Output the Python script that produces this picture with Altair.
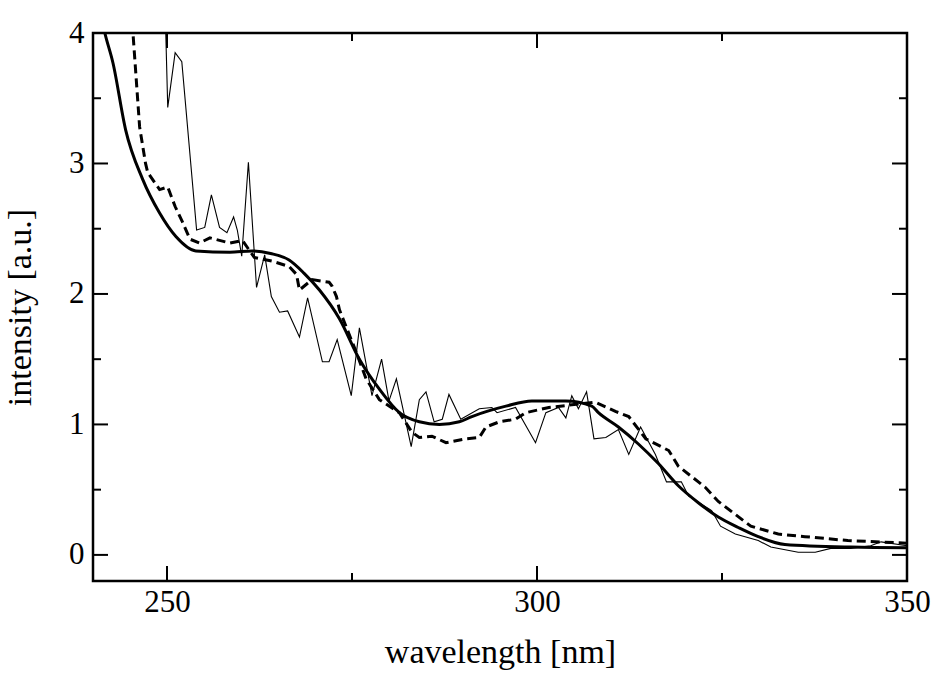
import altair as alt
import pandas as pd

# ---- data ----
smooth_x = [240.0, 241.6, 242.7, 244.4, 246.7, 249.0, 251.2, 253.9, 258.5, 261.5, 264.0, 266.5, 268.5,
            270.6, 273.3, 276.0, 278.7, 281.4, 284.1, 286.8, 289.5, 291.2, 295.8, 299.3, 303.9,
            307.4, 308.3, 311.0, 313.7, 316.4, 319.1, 321.8, 324.5, 327.2, 329.9, 333.5, 342.4, 350.0]
smooth_y = [4.45, 4.0, 3.77, 3.26, 2.88, 2.62, 2.44, 2.33, 2.32, 2.33, 2.31, 2.26, 2.16,
            2.03, 1.81, 1.50, 1.27, 1.09, 1.02, 1.00, 1.02, 1.06, 1.14, 1.18, 1.18,
            1.14, 1.09, 0.98, 0.85, 0.70, 0.53, 0.40, 0.29, 0.21, 0.14, 0.08, 0.06, 0.055]

dashed_x = [244.6, 245.4, 246.3, 247.1, 247.4, 249.0, 250.1, 251.1, 252.1, 253.1, 254.4, 255.8,
            258.5, 260.2, 261.8, 264.3, 266.5, 267.5, 267.9, 269.6, 271.9, 272.3, 272.9, 273.3,
            274.2, 275.6, 276.9, 278.7, 281.4, 283.1, 284.1, 285.8, 287.7, 290.4, 292.2, 293.1,
            294.9, 297.1, 298.5, 301.6, 304.7, 307.9, 310.6, 312.4, 314.7, 317.8, 319.1, 320.9,
            322.7, 324.5, 326.8, 328.9, 332.6, 336.2, 342.0, 350.0]
dashed_y = [4.4, 4.0, 3.28, 3.0, 2.93, 2.80, 2.82, 2.67, 2.55, 2.42, 2.39, 2.43,
            2.39, 2.41, 2.28, 2.25, 2.21, 2.15, 2.03, 2.11, 2.09, 2.06, 1.98, 1.88,
            1.75, 1.55, 1.35, 1.19, 1.09, 0.94, 0.90, 0.91, 0.86, 0.89, 0.90, 0.98,
            1.02, 1.04, 1.09, 1.13, 1.15, 1.17, 1.10, 1.06, 0.89, 0.80, 0.68, 0.60,
            0.52, 0.41, 0.31, 0.22, 0.16, 0.14, 0.11, 0.09]

noisy_x = [249.6, 250.1, 251.1, 252.0, 254.0, 255.1, 256.0, 257.1, 258.1, 259.0, 259.5, 260.1,
           261.0, 262.1, 263.2, 264.1, 265.2, 266.3, 267.9, 269.0, 271.0, 271.9, 273.0, 274.9,
           276.0, 277.7, 279.0, 280.0, 281.0, 283.0, 284.1, 285.0, 286.1, 287.2, 288.1, 289.7,
           292.2, 293.9, 294.6, 297.1, 299.8, 301.2, 302.9, 303.9, 304.7, 305.6, 306.7, 307.7,
           309.3, 311.0, 312.4, 314.0, 316.0, 317.5, 319.5, 320.5, 323.6, 324.8, 326.8, 329.9,
           331.6, 335.3, 337.6, 339.7, 342.4, 345.1, 346.5, 350.0]
noisy_y = [4.5, 3.43, 3.85, 3.78, 2.49, 2.51, 2.76, 2.51, 2.47, 2.59, 2.49, 2.29,
           3.01, 2.05, 2.30, 1.98, 1.86, 1.87, 1.67, 1.97, 1.48, 1.48, 1.65, 1.22,
           1.74, 1.22, 1.50, 1.18, 1.35, 0.83, 1.19, 1.25, 1.02, 1.04, 1.23, 1.04,
           1.12, 1.13, 1.09, 1.13, 0.86, 1.09, 1.13, 1.05, 1.22, 1.12, 1.25, 0.89,
           0.90, 0.96, 0.77, 0.98, 0.77, 0.56, 0.56, 0.45, 0.34, 0.22, 0.16, 0.11,
           0.06, 0.02, 0.02, 0.05, 0.05, 0.07, 0.10, 0.07]

x_major = [250, 300, 350]
x_minor = [275, 325]
y_major = [0, 1, 2, 3, 4]
y_minor = [0.5, 1.5, 2.5, 3.5]

W, H = 814, 548
FONT = "Liberation Serif"

xs = alt.Scale(domain=[240, 350], nice=False, zero=False)
ys = alt.Scale(domain=[-0.2, 4], nice=False, zero=False)

df_s = pd.DataFrame({"wl": smooth_x, "val": smooth_y})
df_d = pd.DataFrame({"wl": dashed_x, "val": dashed_y})
df_n = pd.DataFrame({"wl": noisy_x, "val": noisy_y})

x_axis = alt.Axis(values=x_major, ticks=False, domain=False, grid=False, labelFont=FONT,
                  labelFontSize=31, labelColor="black", labelPadding=6, title="wavelength [nm]",
                  titleFont=FONT, titleFontSize=34, titleFontWeight="normal", titleColor="black",
                  titlePadding=18, format="d", labelFlush=False)
y_axis = alt.Axis(values=y_major, ticks=False, domain=False, grid=False, labelFont=FONT,
                  labelFontSize=31, labelColor="black", labelPadding=9, title="intensity [a.u.]",
                  titleFont=FONT, titleFontSize=34, titleFontWeight="normal", titleColor="black",
                  titlePadding=31, format="d", labelFlush=False)

X = alt.X("wl:Q", scale=xs, axis=x_axis)
Y = alt.Y("val:Q", scale=ys, axis=y_axis)

smooth = alt.Chart(df_s).mark_line(color="black", strokeWidth=3, clip=True,
                                   interpolate="monotone").encode(x=X, y=Y)
dashed = alt.Chart(df_d).mark_line(color="black", strokeWidth=3, strokeDash=[9, 5], clip=True).encode(x=X, y=Y)
noisy = alt.Chart(df_n).mark_line(color="black", strokeWidth=1.1, clip=True).encode(x=X, y=Y)

def xticks(vals, length):
    d = pd.DataFrame({"wl": vals})
    bot = alt.Chart(d).mark_rule(color="black", strokeWidth=2).encode(
        x=X, y=alt.value(H), y2=alt.value(H - length))
    top = alt.Chart(d).mark_rule(color="black", strokeWidth=2).encode(
        x=X, y=alt.value(0), y2=alt.value(length))
    return [bot, top]

def yticks(vals, length):
    d = pd.DataFrame({"val": vals})
    left = alt.Chart(d).mark_rule(color="black", strokeWidth=2).encode(
        y=Y, x=alt.value(0), x2=alt.value(length))
    right = alt.Chart(d).mark_rule(color="black", strokeWidth=2).encode(
        y=Y, x=alt.value(W), x2=alt.value(W - length))
    return [left, right]

layers = [smooth, dashed, noisy] + xticks(x_major, 15) + xticks(x_minor, 8) + yticks(y_major, 15) + yticks(y_minor, 8)

chart = alt.layer(*layers).properties(
    width=W, height=H,
    background="white",
    autosize=alt.AutoSizeParams(type="none"),
    padding={"left": 93, "top": 33, "right": 28, "bottom": 93},
).configure_view(stroke="black", strokeWidth=2.5, strokeOpacity=1)

chart.save("out.html", embed_options={"renderer": "svg", "actions": False})
